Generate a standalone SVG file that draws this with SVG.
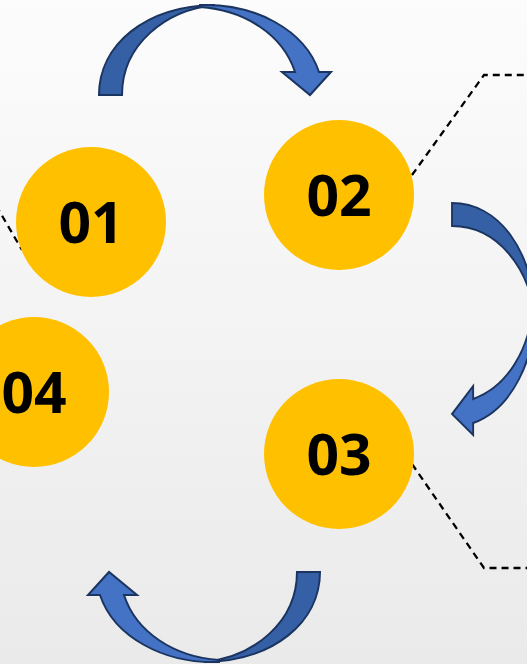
<svg xmlns="http://www.w3.org/2000/svg" width="527" height="664" viewBox="0 0 527 664">
<defs>
<linearGradient id="bg" x1="0" y1="0" x2="0" y2="1">
<stop offset="0" stop-color="#FCFCFC"/>
<stop offset="1" stop-color="#EAEAEA"/>
</linearGradient>
<g id="carrow">
<path class="dark" d="M99,95 C99,45 145,6 215,5 C165,10 122,45 122,95 Z"/>
<path class="light" d="M200,5 C255,3 305,30 319,72 L331,72 L310,95 L282,72 L295,72 C283,35 245,10 200,7 Z"/>
</g>
</defs>
<style>
.dark{fill:#3560A5;stroke:#1B3560;stroke-width:2;stroke-linejoin:miter}
.light{fill:#4472C4;stroke:#1B3560;stroke-width:2;stroke-linejoin:miter}
.dash{fill:none;stroke:#000;stroke-width:2.3;stroke-dasharray:7,5}
.node circle{fill:#FFC000}
.node text{font-family:"Open Sans","Liberation Sans",sans-serif;font-weight:bold;font-size:57px;fill:#000;text-anchor:middle}
</style>
<rect width="527" height="664" fill="url(#bg)"/>
<g id="connectors">
<polyline class="dash" points="-10,195 22,250"/>
<polyline class="dash" points="412,175 484,75 527,75"/>
<polyline class="dash" points="412,464 484,568 527,568"/>
<use href="#carrow"/>
<use href="#carrow" transform="matrix(0,1,-0.92,0,539.4,104)"/>
<use href="#carrow" transform="matrix(-1,0,0,-1,419,667)"/>
</g>
<g id="node01" class="node"><circle cx="91" cy="222" r="75"/><text x="91" y="243">01</text></g>
<g id="node02" class="node"><circle cx="339" cy="195" r="75"/><text x="339" y="216">02</text></g>
<g id="node03" class="node"><circle cx="339" cy="454" r="75"/><text x="339" y="475">03</text></g>
<g id="node04" class="node"><circle cx="34" cy="392" r="75"/><text x="34" y="413">04</text></g>
</svg>
